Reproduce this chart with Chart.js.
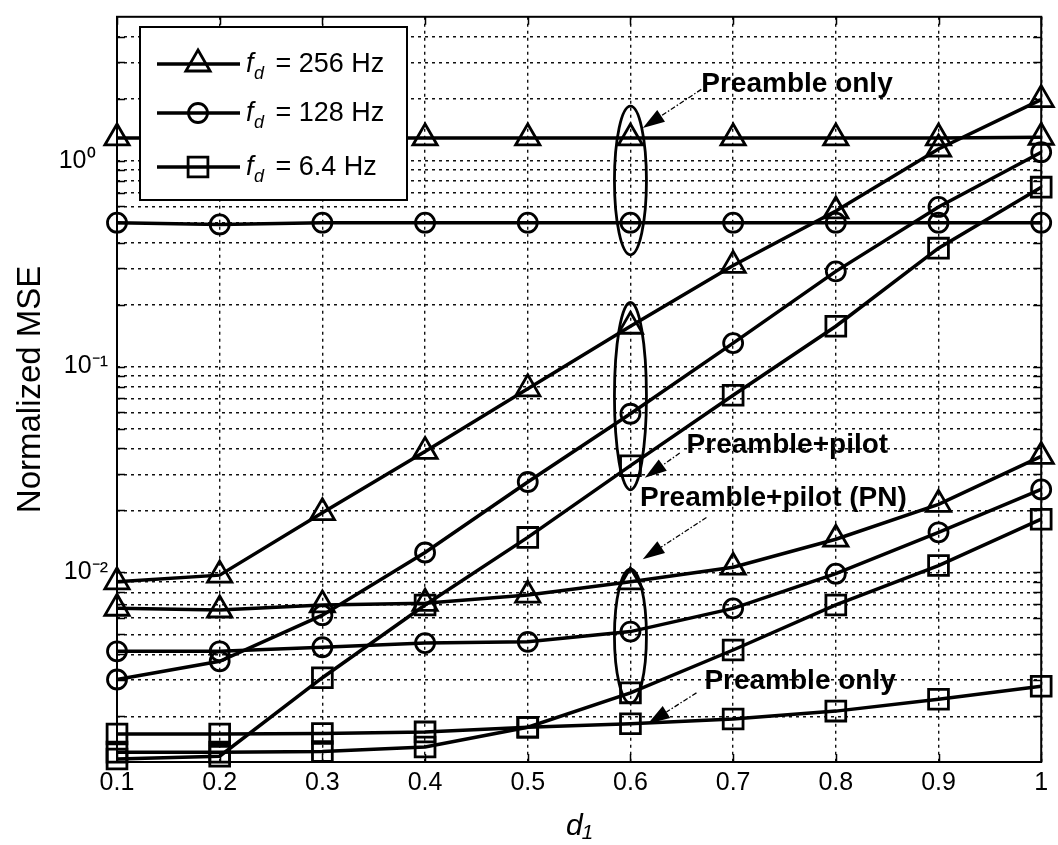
<!DOCTYPE html>
<html>
<head>
<meta charset="utf-8">
<script src="https://cdn.jsdelivr.net/npm/chart.js@4.4.1/dist/chart.umd.min.js"></script>
<style>
html,body{margin:0;padding:0;background:#fff;}
canvas{display:block;}
</style>
</head>
<body>
<canvas id="c" width="1058" height="845"></canvas>
<script>
// ---------- data ----------
const d1 = [0.1, 0.2, 0.3, 0.4, 0.5, 0.6, 0.7, 0.8, 0.9, 1.0];
const xTickLabels = ['0.1', '0.2', '0.3', '0.4', '0.5', '0.6', '0.7', '0.8', '0.9', '1'];
const yMajorTicks = [0.01, 0.1, 1];
const yMajorLabels = ['10\u207B\u00B2', '10\u207B\u00B9', '10\u2070\u2002'];
const yGridTicks = [0.002, 0.003, 0.004, 0.005, 0.006, 0.007, 0.008, 0.009,
                    0.01, 0.02, 0.03, 0.04, 0.05, 0.06, 0.07, 0.08, 0.09,
                    0.1, 0.2, 0.3, 0.4, 0.5, 0.6, 0.7, 0.8, 0.9,
                    1, 2, 3, 4];
const fdLabels = ['256', '128', '6.4'];

// Preamble only
const preamble256 = [1.29, 1.29, 1.29, 1.29, 1.29, 1.29, 1.29, 1.29, 1.29, 1.30];
const preamble128 = [0.50, 0.49, 0.50, 0.50, 0.50, 0.50, 0.50, 0.50, 0.50, 0.50];
const preamble64  = [1.64e-3, 1.64e-3, 1.65e-3, 1.68e-3, 1.77e-3, 1.84e-3, 1.94e-3, 2.12e-3, 2.42e-3, 2.80e-3];
// Preamble + pilot
const pilot256 = [9.0e-3, 9.7e-3, 1.95e-2, 3.87e-2, 7.8e-2, 0.157, 0.31, 0.57, 1.14, 1.98];
const pilot128 = [3.02e-3, 3.7e-3, 6.2e-3, 1.25e-2, 2.75e-2, 5.9e-2, 0.130, 0.29, 0.596, 1.10];
const pilot64  = [1.24e-3, 1.28e-3, 3.08e-3, 6.95e-3, 1.48e-2, 3.3e-2, 7.25e-2, 0.157, 0.376, 0.744];
// Preamble + pilot (PN)
const pn256 = [6.7e-3, 6.57e-3, 6.95e-3, 7.08e-3, 7.76e-3, 9.0e-3, 1.06e-2, 1.45e-2, 2.14e-2, 3.66e-2];
const pn128 = [4.14e-3, 4.14e-3, 4.33e-3, 4.54e-3, 4.6e-3, 5.16e-3, 6.69e-3, 9.86e-3, 1.566e-2, 2.53e-2];
const pn64  = [1.34e-3, 1.34e-3, 1.35e-3, 1.42e-3, 1.77e-3, 2.6e-3, 4.2e-3, 6.95e-3, 1.08e-2, 1.814e-2];

// annotations (in data coordinates)
const annEllipses = [
  { x: 0.6, top: 1.84, bottom: 0.349 },
  { x: 0.6, top: 0.205, bottom: 0.0252 },
  { x: 0.6, top: 0.01038, bottom: 2.32e-3 }
];
const annTexts = [
  { text: 'Preamble only', x: 0.669, y: 2.15 },
  { text: 'Preamble+pilot', x: 0.6547, y: 0.038 },
  { text: 'Preamble+pilot (PN)', x: 0.6093, y: 0.0211 },
  { text: 'Preamble only', x: 0.672, y: 2.715e-3 }
];
const annArrows = [
  { from: [0.669, 2.22], to: [0.612, 1.44] },
  { from: [0.648, 0.038], to: [0.614, 0.0288] },
  { from: [0.674, 0.01848], to: [0.612, 0.0116] },
  { from: [0.6643, 2.6e-3], to: [0.617, 1.84e-3] }
];

// ---------- styles ----------
const FONT = '"Liberation Sans", Arial, Helvetica, sans-serif';
const markerStyles = [
  { pointStyle: 'triangle', radius: 14 },
  { pointStyle: 'circle', radius: 9.5 },
  { pointStyle: 'rect', radius: 14 }
];

function mk(values, m) {
  return {
    data: d1.map((x, i) => ({ x: x, y: values[i] })),
    borderColor: '#000',
    borderWidth: 3.5,
    pointStyle: markerStyles[m].pointStyle,
    pointRadius: markerStyles[m].radius,
    pointHoverRadius: markerStyles[m].radius,
    pointBorderWidth: 2.8,
    pointBorderColor: '#000',
    pointBackgroundColor: 'rgba(0,0,0,0)',
    tension: 0,
    clip: false,
    fill: false
  };
}

const datasets = [
  Object.assign(mk(preamble256, 0), { label: 'Preamble only, fd = 256 Hz' }),
  Object.assign(mk(preamble128, 1), { label: 'Preamble only, fd = 128 Hz' }),
  Object.assign(mk(preamble64, 2),  { label: 'Preamble only, fd = 6.4 Hz' }),
  Object.assign(mk(pilot256, 0), { label: 'Preamble+pilot, fd = 256 Hz' }),
  Object.assign(mk(pilot128, 1), { label: 'Preamble+pilot, fd = 128 Hz' }),
  Object.assign(mk(pilot64, 2),  { label: 'Preamble+pilot, fd = 6.4 Hz' }),
  Object.assign(mk(pn256, 0), { label: 'Preamble+pilot (PN), fd = 256 Hz' }),
  Object.assign(mk(pn128, 1), { label: 'Preamble+pilot (PN), fd = 128 Hz' }),
  Object.assign(mk(pn64, 2),  { label: 'Preamble+pilot (PN), fd = 6.4 Hz' })
];

function drawMarker(ctx, style, x, y, r) {
  ctx.beginPath();
  if (style === 'circle') {
    ctx.arc(x, y, r, 0, Math.PI * 2);
  } else if (style === 'rect') {
    const s = r * Math.SQRT1_2;
    ctx.rect(x - s, y - s, 2 * s, 2 * s);
  } else {
    for (let k = 0; k < 3; k++) {
      const a = k * 2 * Math.PI / 3;
      const px = x + Math.sin(a) * r, py = y - Math.cos(a) * r;
      if (k === 0) ctx.moveTo(px, py); else ctx.lineTo(px, py);
    }
    ctx.closePath();
  }
  ctx.stroke();
}

function drawArrow(ctx, x0, y0, x1, y1) {
  const ang = Math.atan2(y1 - y0, x1 - x0);
  const L = 22, W = 7;
  const bx = x1 - L * Math.cos(ang), by = y1 - L * Math.sin(ang);
  ctx.save();
  ctx.lineWidth = 1.3;
  ctx.setLineDash([5, 2, 1.5, 2]);
  ctx.beginPath(); ctx.moveTo(x0, y0); ctx.lineTo(bx, by); ctx.stroke();
  ctx.setLineDash([]);
  ctx.beginPath();
  ctx.moveTo(x1, y1);
  ctx.lineTo(bx + W * Math.sin(ang), by - W * Math.cos(ang));
  ctx.lineTo(bx - W * Math.sin(ang), by + W * Math.cos(ang));
  ctx.closePath(); ctx.fill();
  ctx.restore();
}

const decor = {
  id: 'decor',
  afterDatasetsDraw(chart) {
    const { ctx, scales: { x, y } } = chart;
    ctx.save();
    ctx.strokeStyle = '#000'; ctx.fillStyle = '#000';
    // ellipses
    annEllipses.forEach(e => {
      const cx = x.getPixelForValue(e.x);
      const yt = y.getPixelForValue(e.top), yb = y.getPixelForValue(e.bottom);
      ctx.beginPath();
      ctx.ellipse(cx, (yt + yb) / 2, 16, (yb - yt) / 2, 0, 0, Math.PI * 2);
      ctx.lineWidth = 2.8;
      ctx.stroke();
    });
    // arrows
    annArrows.forEach(a => {
      drawArrow(ctx, x.getPixelForValue(a.from[0]), y.getPixelForValue(a.from[1]),
                x.getPixelForValue(a.to[0]), y.getPixelForValue(a.to[1]));
    });
    // texts
    ctx.font = 'bold 28px ' + FONT;
    ctx.textAlign = 'left'; ctx.textBaseline = 'alphabetic';
    annTexts.forEach(t => {
      ctx.fillText(t.text, x.getPixelForValue(t.x), y.getPixelForValue(t.y));
    });
    // legend box
    const L = { left: 140, top: 27, width: 267, height: 173 };
    ctx.fillStyle = '#fff';
    ctx.fillRect(L.left, L.top, L.width, L.height);
    ctx.lineWidth = 2;
    ctx.strokeStyle = '#000';
    ctx.strokeRect(L.left, L.top, L.width, L.height);
    ctx.fillStyle = '#000';
    const rowsY = [64, 113, 167];
    fdLabels.forEach((fd, i) => {
      const yy = rowsY[i];
      ctx.lineWidth = 3.5;
      ctx.beginPath(); ctx.moveTo(157, yy); ctx.lineTo(240, yy); ctx.stroke();
      ctx.lineWidth = 2.8;
      drawMarker(ctx, markerStyles[i].pointStyle, 198, yy, markerStyles[i].radius);
      const base = yy + 8;
      ctx.font = 'italic 27px ' + FONT;
      ctx.fillText('f', 246, base);
      ctx.font = 'italic 18px ' + FONT;
      ctx.fillText('d', 254, base + 7);
      ctx.font = '27px ' + FONT;
      ctx.fillText(' = ' + fd + ' Hz', 268, base);
    });
    ctx.restore();
  },
  afterDraw(chart) {
    const { ctx, chartArea: a, scales: { x, y } } = chart;
    ctx.save();
    ctx.strokeStyle = '#000';
    ctx.lineWidth = 1.5;
    ctx.beginPath();
    y.ticks.forEach(t => {
      const py = Math.round(y.getPixelForValue(t.value)) + 0.5;
      ctx.moveTo(a.left, py); ctx.lineTo(a.left + 8, py);
      ctx.moveTo(a.right, py); ctx.lineTo(a.right - 8, py);
    });
    x.ticks.forEach(t => {
      const px = Math.round(x.getPixelForValue(t.value)) + 0.5;
      ctx.moveTo(px, a.top); ctx.lineTo(px, a.top + 8);
      ctx.moveTo(px, a.bottom); ctx.lineTo(px, a.bottom - 8);
    });
    ctx.stroke();
    ctx.lineWidth = 2;
    ctx.strokeRect(a.left, a.top, a.right - a.left, a.bottom - a.top);
    ctx.restore();
  }
};

new Chart(document.getElementById('c'), {
  type: 'line',
  data: { datasets: datasets },
  options: {
    responsive: false,
    animation: false,
    devicePixelRatio: 1,
    layout: { padding: { left: 0, right: 8, top: 12, bottom: 0 } },
    plugins: { legend: { display: false }, tooltip: { enabled: false } },
    scales: {
      x: {
        type: 'linear', min: 0.1, max: 1,
        afterBuildTicks: s => { s.ticks = d1.map(v => ({ value: v })); },
        afterFit: s => { s.height = 83; s.paddingLeft = 0; s.paddingRight = 0; },
        ticks: {
          autoSkip: false, maxRotation: 0, padding: 6, color: '#000',
          font: { family: FONT, size: 25 },
          callback: (v, i) => xTickLabels[i]
        },
        grid: { color: '#111', lineWidth: 1.4, drawTicks: false },
        border: { display: false, dash: [3, 4] },
        title: {
          display: true, text: 'd\u2081', color: '#000',
          font: { family: FONT, size: 30, style: 'italic' },
          padding: { top: 0, bottom: 0 }
        }
      },
      y: {
        type: 'logarithmic', min: 1.2e-3, max: 5,
        afterBuildTicks: s => { s.ticks = yGridTicks.map(v => ({ value: v })); },
        afterFit: s => { s.width = 117; s.paddingTop = 0; s.paddingBottom = 0; },
        ticks: {
          autoSkip: false, padding: 9, color: '#000',
          font: { family: FONT, size: 25 },
          callback: (v) => {
            const i = yMajorTicks.findIndex(m => Math.abs(m - v) / m < 1e-6);
            return i >= 0 ? yMajorLabels[i] : '';
          }
        },
        grid: { color: '#111', lineWidth: 1.4, drawTicks: false },
        border: { display: false, dash: [3, 4] },
        title: {
          display: true, text: 'Normalized MSE', color: '#000',
          font: { family: FONT, size: 33 },
          padding: { top: 11, bottom: 0 }
        }
      }
    }
  },
  plugins: [decor]
});
</script>
</body>
</html>
